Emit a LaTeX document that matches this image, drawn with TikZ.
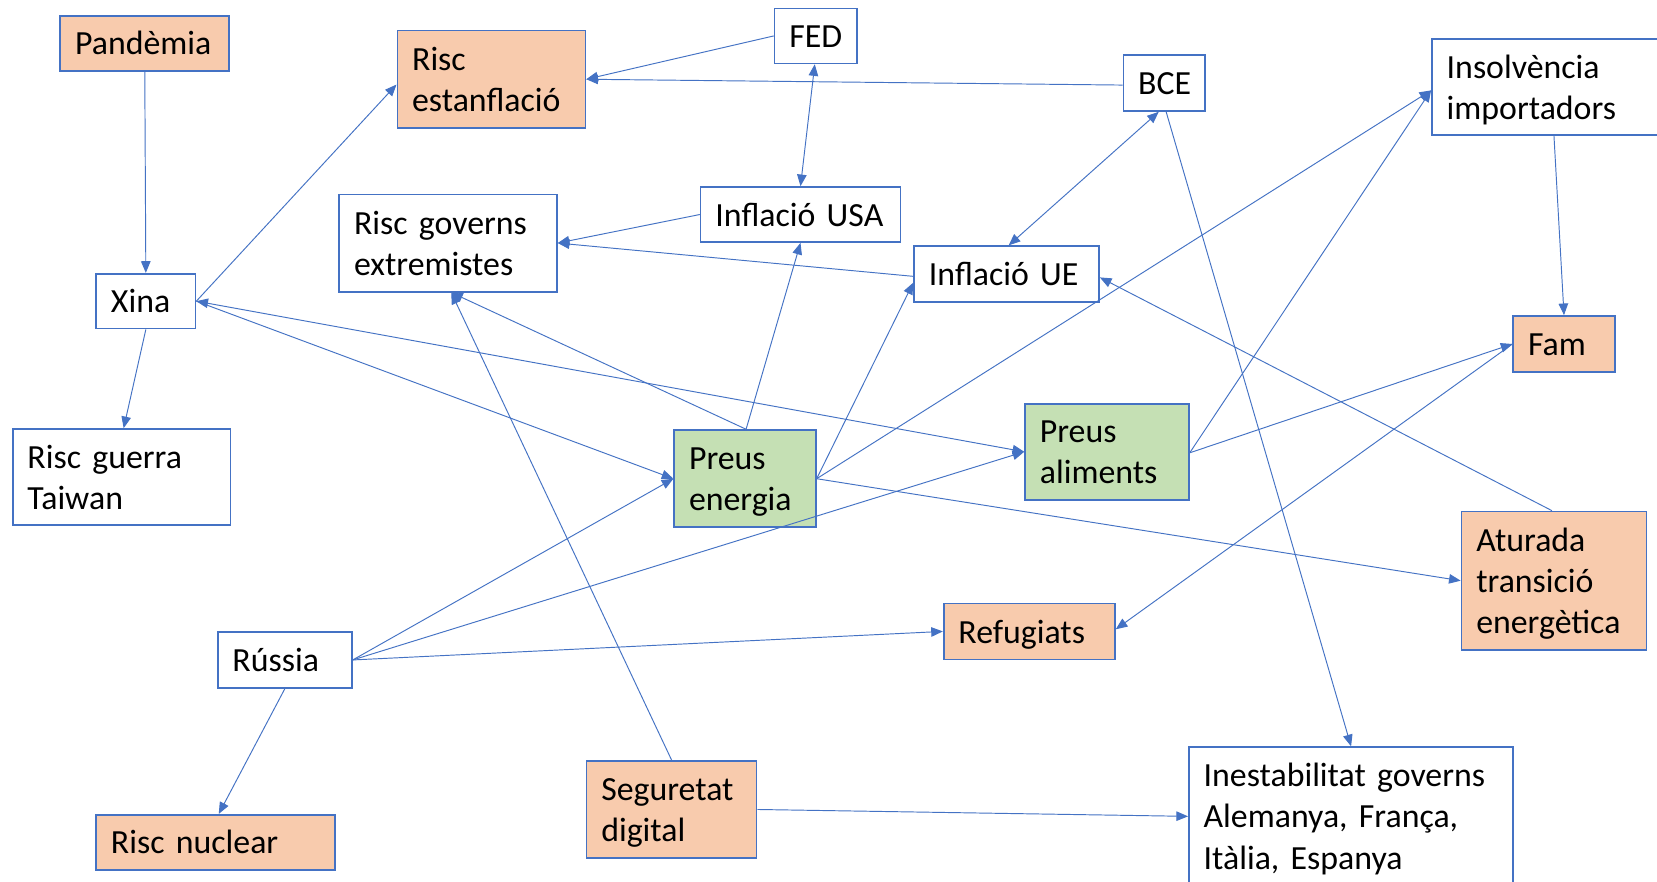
\documentclass[tikz,border=0pt]{standalone}
\usepackage{fontspec}
\setmainfont{Carlito}[WordSpace=0.6]
\usetikzlibrary{arrows.meta,calc}
\definecolor{bblue}{HTML}{4472C4}
\definecolor{peach}{HTML}{F8CBAD}
\definecolor{lgreen}{HTML}{C5E0B4}
\newcommand\TopStrutX{\rule{0pt}{31pt}}
\newcommand\BotStrutX{\rule[-9pt]{0pt}{9pt}}
\begin{document}
\begin{tikzpicture}[x=1pt,y=-1pt,
  box/.style={draw=bblue, line width=1.6pt, fill=white, rectangle, inner xsep=14pt, inner ysep=0pt, align=left, font=\fontsize{32}{39}\selectfont, text=black,
    execute at begin node=\TopStrutX, execute at end node=\BotStrutX},
  warm/.style={box, fill=peach},
  cool/.style={box, fill=lgreen},
  conn/.style={draw=bblue, line width=0.9pt, -{Triangle[length=11pt,width=9pt]}},
  both/.style={conn, {Triangle[length=11pt,width=9pt]}-{Triangle[length=11pt,width=9pt]}}]
\useasboundingbox[fill=white] (0,0) rectangle (1568,834);

% nodes
\node[warm, minimum height=52pt, text width=132pt] (pand) at (137,41) {Pandèmia};
\node[warm, minimum height=92pt, text width=150pt] (estan) at (465,75) {Risc\\estanflació};
\node[box, minimum height=52pt, text width=50pt] (fed) at (772,34) {FED};
\node[box, minimum height=53pt, text width=49pt] (bce) at (1101.5,78.5) {BCE};
\node[box, minimum height=91pt, text width=197pt] (insol) at (1467.5,82.5) {Insolvència\\importadors};
\node[box, minimum height=52pt, text width=161pt] (infusa) at (757.5,203) {Inflació USA};
\node[box, minimum height=92pt, text width=178pt] (rge) at (424,230) {Risc governs\\extremistes};
\node[box, minimum height=53pt, text width=147pt] (infue) at (952.5,259.5) {Inflació UE};
\node[box, minimum height=52pt, text width=66pt] (xina) at (138,285) {Xina};
\node[warm, minimum height=53pt, text width=68pt] (fam) at (1480,325.5) {Fam};
\node[box, minimum height=91pt, text width=178pt] (rgt) at (115,451.5) {Risc guerra\\Taiwan};
\node[cool, minimum height=92pt, text width=106pt] (pen) at (705,453) {Preus\\energia};
\node[cool, minimum height=91pt, text width=127pt] (pal) at (1047.5,427.5) {Preus\\aliments};
\node[warm, minimum height=131pt, text width=147pt] (atur) at (1470.5,549.5) {Aturada\\transició\\energètica};
\node[warm, minimum height=53pt, text width=134pt] (refu) at (974,597.5) {Refugiats};
\node[box, minimum height=53pt, text width=99pt] (rus) at (269.5,624.5) {Rússia};
\node[warm, minimum height=92pt, text width=133pt] (seg) at (635.5,766) {Seguretat\\digital};
\node[warm, minimum height=52pt, text width=198pt] (nuc) at (204,797) {Risc nuclear};
\node[box, minimum height=131pt, text width=279pt] (ines) at (1278.5,772.5) {Inestabilitat governs\\Alemanya, França,\\Itàlia, Espanya};

% connectors
\draw[conn] (pand.south) -- (xina.north);
\draw[conn] (xina.east) -- ([yshift=-5pt]estan.west);
\draw[conn] (fed.west) -- (estan.east);
\draw[conn] ([yshift=-2pt]bce.west) -- (estan.east);
\draw[both] ([xshift=-1pt]fed.south) -- (infusa.north);
\draw[conn] (infusa.west) -- (rge.east);
\draw[conn] ([yshift=-2pt]infue.west) -- (rge.east);
\draw[both] ([xshift=-5pt]bce.south) -- ([xshift=2pt]infue.north);
\draw[conn] ([xshift=2pt]bce.south) -- (ines.north);
\draw[conn] ([xshift=1pt]pen.north) -- (infusa.south);
\draw[conn] ([xshift=1pt]pen.north) -- ([xshift=3pt]rge.south);
\draw[conn] (seg.north) -- ([xshift=3pt]rge.south);
\draw[conn] (pen.east) -- ([yshift=-8pt]infue.west);
\draw[conn] (pen.east) -- ([yshift=-3pt]insol.west);
\draw[conn] ([yshift=-1pt]pal.east) -- ([yshift=-3pt]insol.west);
\draw[conn] (pen.east) -- (atur.west);
\draw[conn] ([yshift=-1pt]pal.east) -- (fam.west);
\draw[conn] ([xshift=3pt]insol.south) -- (fam.north);
\draw[conn] (fam.west) -- ([yshift=2pt]refu.east);
\draw[conn] ([xshift=-2pt]atur.north) -- ([yshift=-3pt]infue.east);
\draw[conn] (rus.east) -- (pen.west);
\draw[conn] (rus.east) -- (pal.west);
\draw[conn] (rus.east) -- (refu.west);
\draw[conn] (rus.south) -- ([xshift=3pt]nuc.north);
\draw[conn] (xina.south) -- ([xshift=2pt]rgt.north);
\draw[conn] (xina.east) -- (pen.west);
\draw[both] (xina.east) -- (pal.west);
\draw[conn] (seg.east) -- (ines.west);
\end{tikzpicture}
\end{document}
